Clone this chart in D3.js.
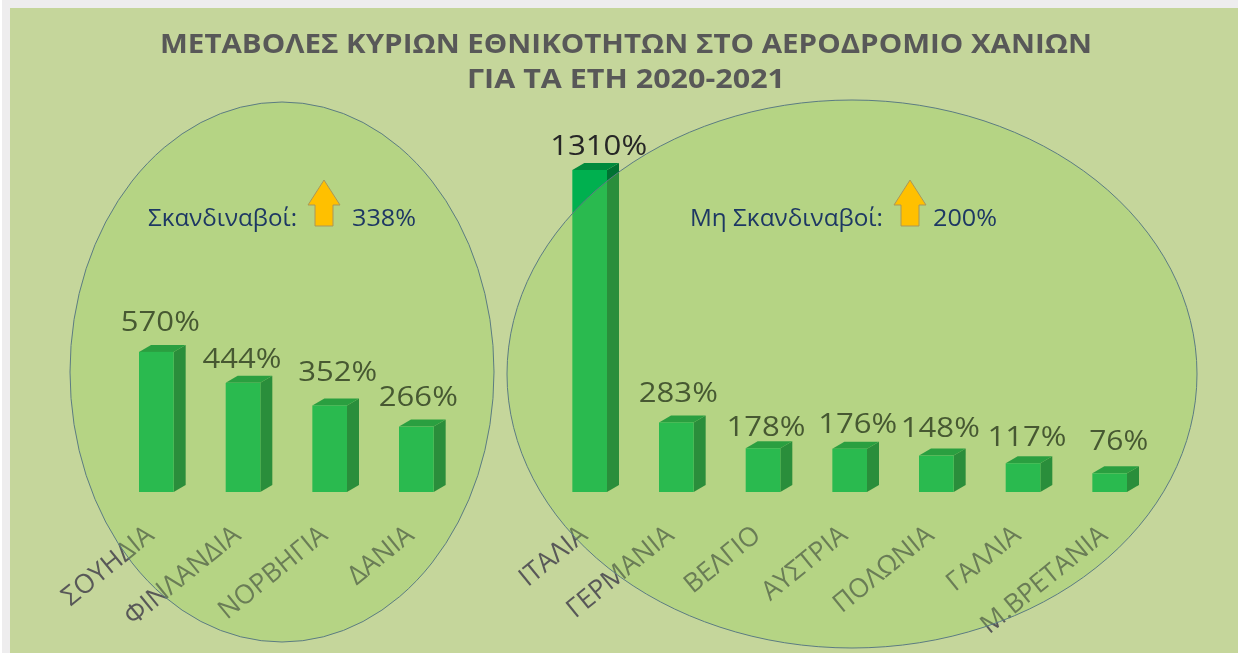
<!DOCTYPE html>
<html><head><meta charset="utf-8">
<style>html,body{margin:0;padding:0;background:#eeedee;overflow:hidden}svg{display:block}
text{font-family:"Open Sans",sans-serif}</style>
<script src="https://cdn.jsdelivr.net/npm/d3@7"></script></head>
<body><svg id="c" width="1238" height="653"></svg>
<script>
const categories=["ΣΟΥΗΔΙΑ","ΦΙΝΛΑΝΔΙΑ","ΝΟΡΒΗΓΙΑ","ΔΑΝΙΑ","ΙΤΑΛΙΑ","ΓΕΡΜΑΝΙΑ","ΒΕΛΓΙΟ","ΑΥΣΤΡΙΑ","ΠΟΛΩΝΙΑ","ΓΑΛΛΙΑ","Μ.ΒΡΕΤΑΝΙΑ"];
const values=[570,444,352,266,1310,283,178,176,148,117,76];
const titleLines=["ΜΕΤΑΒΟΛΕΣ ΚΥΡΙΩΝ ΕΘΝΙΚΟΤΗΤΩΝ ΣΤΟ ΑΕΡΟΔΡΟΜΙΟ ΧΑΝΙΩΝ","ΓΙΑ ΤΑ ΕΤΗ 2020-2021"];
const groupNames=["Σκανδιναβοί:","Μη Σκανδιναβοί:"];
const groupValues=["338%","200%"];
const spacer=" ";
const slots=[...categories.slice(0,4),spacer,...categories.slice(4)];

// hand-placed data labels in the original: offsets from the bar top centre
const labelNudgeX=[4,-1,8,2,9,2,3,8,4,4,9];
const labelNudgeY=[-21,-15,-24,-21,-15,-20,-12,-16,-19,-17,-23];
const titleWidths=[932,318];

const svg=d3.select("#c");
const defs=svg.append("defs");
defs.append("filter").attr("id","soft").attr("x","-5%").attr("y","-5%").attr("width","110%").attr("height","110%")
  .append("feGaussianBlur").attr("stdDeviation",0.7);
svg.append("rect").attr("x",0).attr("y",0).attr("width",2).attr("height",653).attr("fill","#ffffff");
svg.append("rect").attr("x",10).attr("y",8).attr("width",1228).attr("height",645).attr("fill","#c5d69b");
const g=svg.append("g").attr("filter","url(#soft)");

const x=d3.scaleBand().domain(slots).range([113,1153]).paddingInner(0.6).paddingOuter(0.3);
const y=d3.scaleLinear().domain([0,1310]).range([492,170]);
const dx=12,dy=7;

// title
g.selectAll("text.title").data(titleLines).join("text").attr("class","title")
  .attr("x",626).attr("y",(d,i)=>53+i*35).attr("text-anchor","middle")
  .attr("font-size",26).attr("font-weight",700).attr("fill","#595959")
  .attr("textLength",(d,i)=>titleWidths[i]).attr("lengthAdjust","spacingAndGlyphs").text(d=>d);

// bars
const data=categories.map((c,i)=>({c,v:values[i],i}));
const bars=g.selectAll("g.bar").data(data).join("g").attr("class","bar");
bars.append("path").attr("fill","#007232").attr("d",d=>{
  const r=x(d.c)+x.bandwidth(),t=y(d.v),b=y(0);
  return `M${r},${t}L${r+dx},${t-dy}L${r+dx},${b-dy}L${r},${b}Z`;});
bars.append("path").attr("fill","#008a3c").attr("d",d=>{
  const l=x(d.c),r=l+x.bandwidth(),t=y(d.v);
  return `M${l},${t}L${l+dx},${t-dy}L${r+dx},${t-dy}L${r},${t}Z`;});
bars.append("rect").attr("fill","#00b050")
  .attr("x",d=>x(d.c)).attr("y",d=>y(d.v)).attr("width",x.bandwidth()).attr("height",d=>y(0)-y(d.v));
bars.append("text").attr("x",d=>x(d.c)+x.bandwidth()/2+labelNudgeX[d.i])
  .attr("y",d=>y(d.v)+labelNudgeY[d.i])
  .attr("text-anchor","middle").attr("font-size",27).attr("fill","#262626")
  .attr("textLength",d=>d.v<100?59:(d.v<1000?79:97)).attr("lengthAdjust","spacingAndGlyphs")
  .text(d=>d.v+"%");

// category axis
const axis=g.append("g").attr("transform","translate(0,516)")
  .call(d3.axisBottom(x).tickSize(0).tickFormat(d=>d));
axis.select(".domain").remove();
axis.selectAll("text").attr("font-size",26.5).attr("fill","#595959").attr("font-family",'"Open Sans",sans-serif')
  .attr("text-anchor","end").attr("dy",0).attr("y",0).attr("x",0)
  .attr("dominant-baseline","central")
  .attr("transform","translate(-7,14) rotate(-39)");

// translucent ellipses over the bars and labels
[[282,372,212,270],[852,374,345,274]].forEach(e=>{
  g.append("ellipse").attr("cx",e[0]).attr("cy",e[1]).attr("rx",e[2]).attr("ry",e[3])
   .attr("fill","#92d050").attr("fill-opacity",0.3).attr("stroke","#5b7b82").attr("stroke-width",1);
});

// group annotations, above the ellipses
const groups=[{name:0,tx:148,vx:352,ax:324,tw:149},{name:1,tx:690,vx:933,ax:910,tw:193}];
groups.forEach(o=>{
  g.append("text").attr("x",o.tx).attr("y",226).attr("font-size",24).attr("fill","#1f3864")
   .attr("textLength",o.tw).attr("lengthAdjust","spacingAndGlyphs").text(groupNames[o.name]);
  g.append("text").attr("x",o.vx).attr("y",226).attr("font-size",23).attr("fill","#1f3864")
   .attr("textLength",64).attr("lengthAdjust","spacingAndGlyphs").text(groupValues[o.name]);
  g.append("path").attr("fill","#ffc000").attr("stroke","#a8975a").attr("stroke-width",1)
   .attr("d",d3.line()([[o.ax-16,205],[o.ax,180],[o.ax+16,205],[o.ax+9,205],[o.ax+9,226],[o.ax-9,226],[o.ax-9,205]])+"Z");
});
</script></body></html>
